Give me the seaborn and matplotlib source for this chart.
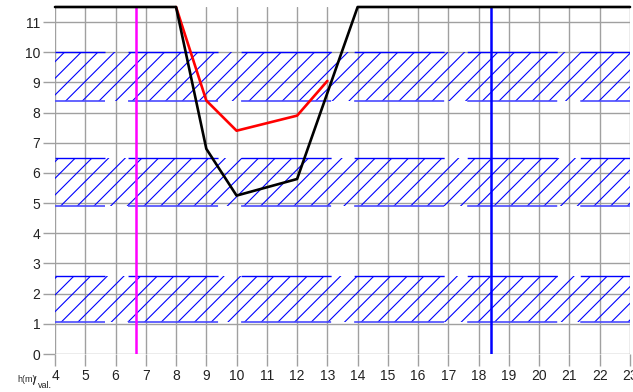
import matplotlib
matplotlib.use("Agg")
import matplotlib.pyplot as plt
import seaborn as sns
import pandas as pd

# profile curves (x value, height in m)
black_x = [4, 8, 9, 10, 12, 14, 23]
black_y = [11.5, 11.5, 6.8, 5.25, 5.8, 11.5, 11.5]
red_x = [8, 9, 10, 12, 13]
red_y = [11.5, 8.4, 7.4, 7.9, 9.05]

# hatched bands (low, high)
band_low = [1.05, 4.9, 8.4]
band_high = [2.6, 6.5, 10.0]

# vertical markers
magenta_x = 6.68
blue_x = 18.42

x_ticks = list(range(4, 24))
y_ticks = list(range(0, 12))

sns.set_theme(style="white")
plt.rcParams["font.family"] = ["Liberation Sans", "DejaVu Sans"]
plt.rcParams["hatch.linewidth"] = 0.8
plt.rcParams["lines.scale_dashes"] = False

fig = plt.figure(figsize=(6.33, 3.92), dpi=100)
ax = fig.add_axes([55 / 633, 38 / 392, 575 / 633, 347 / 392])

grid_col = "#a0a0a0"
ax.set_xlim(4, 23)
ax.set_ylim(0, 11.5)
ax.set_xticks(x_ticks)
ax.set_yticks(y_ticks)
ax.grid(True, color=grid_col, lw=1.0)
ax.set_axisbelow(True)
for s in ax.spines.values():
    s.set_visible(False)
ax.tick_params(length=8.6, width=1.0, color=grid_col, pad=2, labelsize=10,
               labelcolor="#222222", bottom=True, left=True)

# hatched bands with broken border lines
dash = (28.8, (64.8, 16.6))
for lo, hi in zip(band_low, band_high):
    ax.axhspan(lo, hi, facecolor="none", edgecolor="blue", hatch="//", lw=0, zorder=2)
    ax.axhline(hi, color="blue", lw=1.0, ls=dash, zorder=2)
    ax.axhline(lo, color="#4a4aff", lw=1.2, ls=dash, zorder=2)

ax.axvline(magenta_x, color="#ff00ff", lw=1.8, zorder=3)
ax.axvline(blue_x, color="#0000ff", lw=1.8, zorder=3)

red = pd.DataFrame({"x": red_x, "y": red_y})
black = pd.DataFrame({"x": black_x, "y": black_y})
sns.lineplot(data=red, x="x", y="y", sort=False, color="#ff0000", lw=1.9, ax=ax, zorder=4)
sns.lineplot(data=black, x="x", y="y", sort=False, color="black", lw=1.9, ax=ax, zorder=5)
for ln in ax.lines[-2:]:
    ln.set_clip_on(False)
ax.set_xlabel("")
ax.set_ylabel("")

fig.text(17 / 633, 1 - 380 / 392, "h(m)", fontsize=6.5, va="center", ha="left", color="#222222")
fig.text(33 / 633, 1 - 382 / 392, "/", fontsize=9, va="center", ha="left", color="#222222")
fig.text(38 / 633, 1 - 386 / 392, "val.", fontsize=6.5, va="center", ha="left", color="#222222")

fig.savefig("out.png", dpi=100)
